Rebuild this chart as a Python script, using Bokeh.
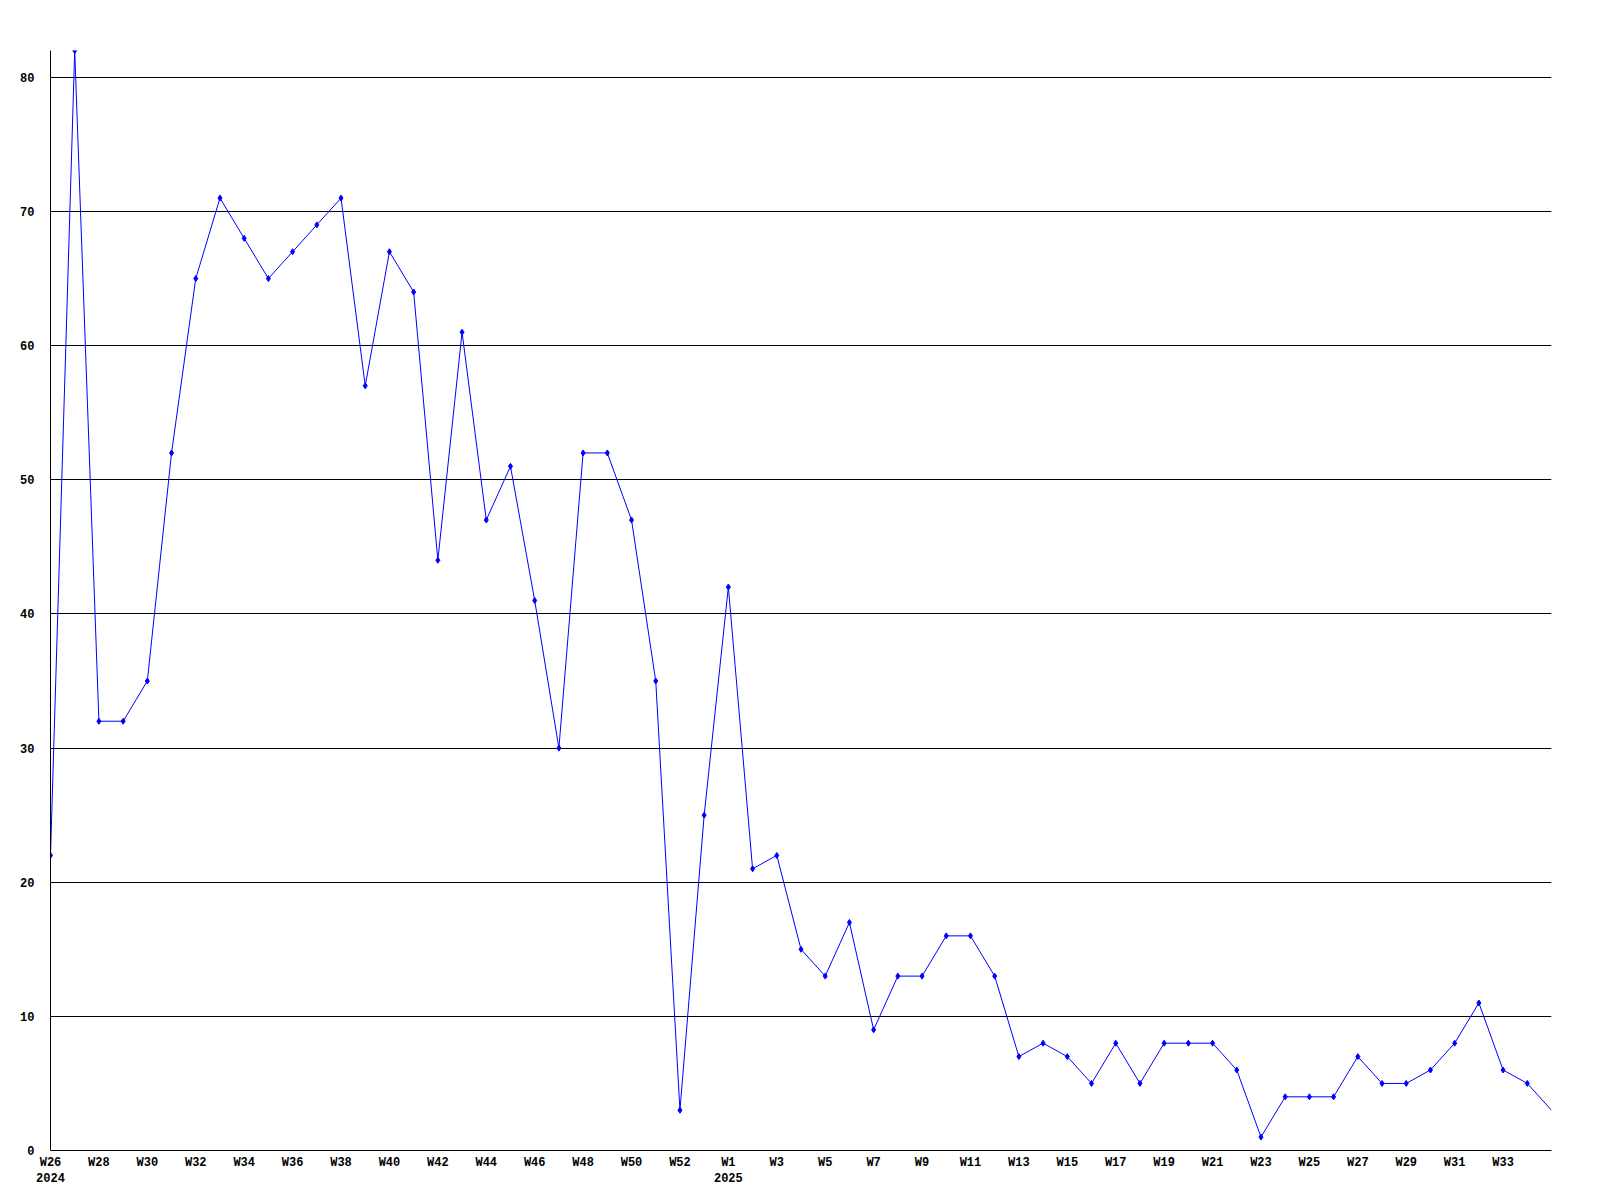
from bokeh.plotting import figure
from bokeh.models import Range1d, FixedTicker
from bokeh.embed import file_html
from bokeh.resources import INLINE

weeks = ["W26", "W27", "W28", "W29", "W30", "W31", "W32", "W33", "W34", "W35",
         "W36", "W37", "W38", "W39", "W40", "W41", "W42", "W43", "W44", "W45",
         "W46", "W47", "W48", "W49", "W50", "W51", "W52", "W53",
         "W1", "W2", "W3", "W4", "W5", "W6", "W7", "W8", "W9", "W10",
         "W11", "W12", "W13", "W14", "W15", "W16", "W17", "W18", "W19", "W20",
         "W21", "W22", "W23", "W24", "W25", "W26", "W27", "W28", "W29", "W30",
         "W31", "W32", "W33", "W34", "W35"]
values = [22, 82, 32, 32, 35, 52, 65, 71, 68, 65,
          67, 69, 71, 57, 67, 64, 44, 61, 47, 51,
          41, 30, 52, 52, 47, 35, 3, 25,
          42, 21, 22, 15, 13, 17, 9, 13, 13, 16,
          16, 13, 7, 8, 7, 5, 8, 5, 8, 8,
          8, 6, 1, 4, 4, 4, 7, 5, 5, 6,
          8, 11, 6, 5, 3]
year_marks = {0: "2024", 28: "2025"}
y_ticks = [0, 10, 20, 30, 40, 50, 60, 70, 80]

xs = list(range(len(values)))

p = figure(width=1592, height=1192, output_backend="svg", toolbar_location=None,
           x_range=Range1d(0, len(values) - 1), y_range=Range1d(0, 82),
           min_border_left=50, min_border_right=41, min_border_top=50, min_border_bottom=42,
           frame_width=1501, frame_height=1100)
p.outline_line_color = None
p.background_fill_color = "white"

p.line(xs, values, line_color="#0000ff", line_width=1)
p.scatter(xs[:-1], values[:-1], marker="diamond", size=6, fill_color="#0000ff", line_color="#0000ff")

tick_pos = [i for i in xs if i % 2 == 0 and i < len(values) - 1]
overrides = {}
for i in tick_pos:
    lab = weeks[i]
    if i in year_marks:
        lab = lab + "\n" + year_marks[i]
    overrides[i] = lab

font = "Liberation Mono"
p.xaxis.ticker = FixedTicker(ticks=tick_pos)
p.xaxis.major_label_overrides = overrides
p.yaxis.ticker = FixedTicker(ticks=y_ticks)

for ax in (p.xaxis, p.yaxis):
    ax.axis_line_color = "black"
    ax.axis_line_width = 1
    ax.major_tick_out = 0
    ax.major_tick_in = 0
    ax.minor_tick_out = 0
    ax.minor_tick_in = 0
    ax.major_label_text_font = font
    ax.major_label_text_font_style = "bold"
    ax.major_label_text_font_size = "12px"
    ax.major_label_text_color = "black"
p.yaxis.major_label_standoff = 16
p.xaxis.major_label_standoff = 5

p.xgrid.grid_line_color = None
p.ygrid.ticker = FixedTicker(ticks=y_ticks)
p.ygrid.grid_line_color = "black"
p.ygrid.grid_line_width = 1
p.ygrid.grid_line_alpha = 1.0

open("out.html", "w").write(file_html(p, INLINE))
